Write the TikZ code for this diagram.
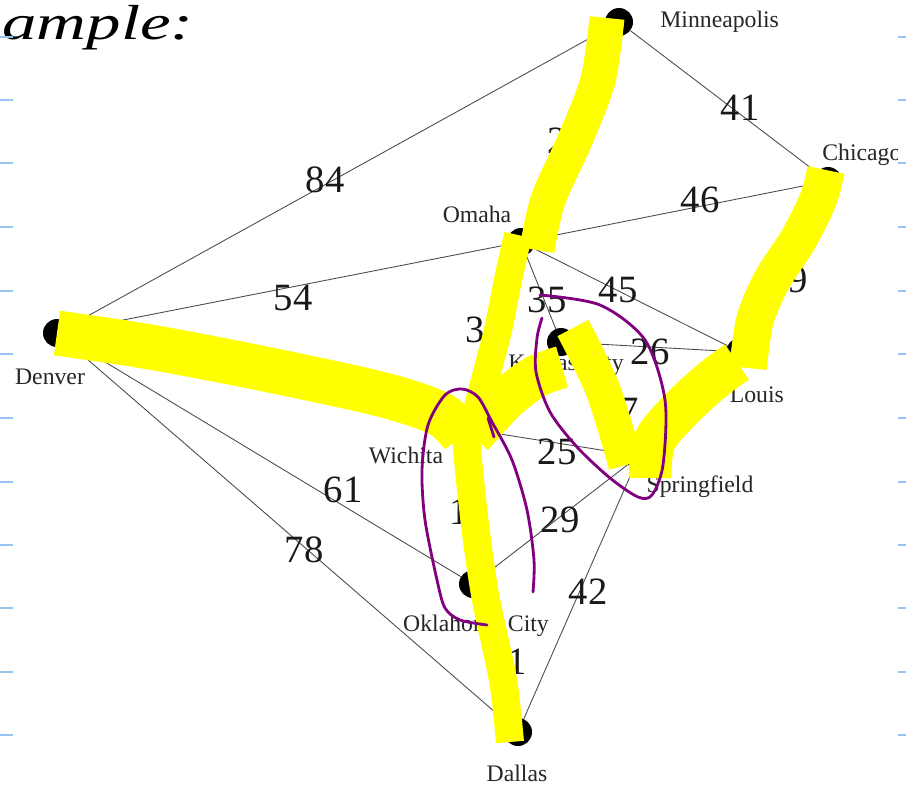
\documentclass[tikz,border=0pt]{standalone}
\usepackage{fontspec}
\setmainfont{Liberation Serif}
\definecolor{hlyellow}{RGB}{255,255,0}
\definecolor{penviolet}{RGB}{128,0,128}
\definecolor{paperrule}{RGB}{150,195,240}
\tikzset{
  city/.style={circle, fill=black, minimum size=0.56cm, inner sep=0pt},
  cityname/.style={font=\fontsize{13.5}{14}\selectfont, text=black!85, inner sep=0pt},
  road/.style={black!70, line width=0.5pt},
  wt/.style={font=\fontsize{22}{22}\selectfont, text=black!90, inner sep=0pt},
  hl/.style={hlyellow, line width=#1, line cap=butt, line join=round},
  penloop/.style={penviolet, line width=1.6pt, line cap=round, line join=round},
}
\begin{document}
\begin{tikzpicture}[x=0.02cm, y=-0.02cm]
\useasboundingbox (0,0) rectangle (906,785);
\begin{scope}
  \clip (0,0) rectangle (897,785);
  % cities
  \node[city] (min) at (619,22)  {};
  \node[city] (chi) at (828,181) {};
  \node[city] (oma) at (521,242) {};
  \node[city] (den) at (57,333)  {};
  \node[city] (kan) at (561,342) {};
  \node[city] (stl) at (740,352) {};
  \node[city] (wic) at (462,428) {};
  \node[city] (spr) at (639,456) {};
  \node[city] (okc) at (473,584) {};
  \node[city] (dal) at (518,732) {};
  \node[cityname, anchor=west] (minl) at (660,22) {Minneapolis};
  \node[cityname, anchor=west] (chil) at (822,155) {Chicago};
  \node[cityname] (omal) at (477,214) {Omaha};
  \node[cityname] (denl) at (50,377)  {Denver};
  \node[cityname] (kanl) at (566,365) {Kansas City};
  \node[cityname] (stll) at (740,395) {St. Louis};
  \node[cityname] (wicl) at (406,455) {Wichita};
  \node[cityname] (sprl) at (700,487) {Springfield};
  \node[cityname] (okcl) at (476,626) {Oklahoma City};
  \node[cityname] (dall) at (517,773) {Dallas};
  % roads
  \draw[road] (den) -- (min);
  \draw[road] (min) -- (chi);
  \draw[road] (min) -- (oma);
  \draw[road] (den) -- (oma);
  \draw[road] (oma) -- (chi);
  \draw[road] (oma) -- (kan);
  \draw[road] (oma) -- (stl);
  \draw[road] (oma) -- (wic);
  \draw[road] (kan) -- (stl);
  \draw[road] (chi) -- (stl);
  \draw[road] (den) -- (wic);
  \draw[road] (wic) -- (kan);
  \draw[road] (kan) -- (spr);
  \draw[road] (spr) -- (stl);
  \draw[road] (wic) -- (spr);
  \draw[road] (den) -- (okc);
  \draw[road] (den) -- (dal);
  \draw[road] (wic) -- (okc);
  \draw[road] (okc) -- (spr);
  \draw[road] (spr) -- (dal);
  \draw[road] (okc) -- (dal);
  % distances
  \node[wt] (w84) at (325,180) {84};
  \node[wt] (w41) at (740,108) {41};
  \node[wt] (w46) at (700,200) {46};
  \node[wt] (w54) at (293,298) {54};
  \node[wt] (w35) at (547,300) {35};
  \node[wt] (w45) at (618,290) {45};
  \node[wt] (w26) at (650,352) {26};
  \node[wt] (w25) at (557,452) {25};
  \node[wt] (w61) at (343,490) {61};
  \node[wt] (w78) at (304,550) {78};
  \node[wt] (w29) at (560,520) {29};
  \node[wt] (w42) at (588,592) {42};
  \node[wt] (wmo) at (557,141) {2};
  \node[wt] (wcs) at (798,280) {9};
  \node[wt] (wow) at (475,330) {3};
  \node[wt] (wks) at (629,411) {7};
  \node[wt] (wwo) at (469,512) {15};
  \node[wt] (wod) at (517,662) {1};
\end{scope}
% highlighted tree
\draw[hl=0.9cm]  plot[smooth] coordinates {(57,333) (150,347) (260,368) (380,394) (440,414) (463,436)};
\draw[hl=0.7cm]  plot[smooth] coordinates {(607,18) (598,80) (575,140) (548,200) (537,250)};
\draw[hl=0.56cm] plot[smooth] coordinates {(518,235) (508,280) (498,330) (485,380) (472,430)};
\draw[hl=0.56cm] plot[smooth] coordinates {(466,430) (468,460) (476,533) (486,600) (503,680) (510,742)};
\draw[hl=0.85cm] plot[smooth] coordinates {(472,436) (505,400) (535,377) (562,367)};
\draw[hl=0.7cm]  plot[smooth] coordinates {(573,328) (603,390) (626,465)};
\draw[hl=0.85cm] plot[smooth] coordinates {(650,478) (655,440) (685,405) (715,378) (737,362)};
\draw[hl=0.75cm] plot[smooth] coordinates {(748,368) (755,320) (772,280) (798,240) (818,200) (826,170)};
% pen loops
\draw[penloop] plot[smooth] coordinates {(487,625) (460,620) (445,608) (437,580) (425,520) (422,470) (428,425) (445,395) (462,389) (478,397) (492,422) (512,460) (527,510) (534,560) (533,592)};
\draw[penloop] (488,418) -- (494,437);
\draw[penloop] plot[smooth] coordinates {(540,295) (600,305) (645,340) (665,400) (663,465) (652,495) (638,497) (610,478) (577,447) (550,412) (536,372) (537,338) (542,318)};
% handwriting
\node[font=\fontsize{28}{28}\selectfont\itshape, anchor=base west, inner sep=0pt, xscale=1.4] (hand) at (2,39) {ample:};
% paper rules
\foreach \y in {37,100,163,227,291,354,418,482,545,608,672,735} {
  \draw[paperrule, line width=1.1pt] (0,\y) -- (13,\y);
  \draw[paperrule, line width=1.1pt] (898,\y) -- (906,\y);
}
\end{tikzpicture}
\end{document}
